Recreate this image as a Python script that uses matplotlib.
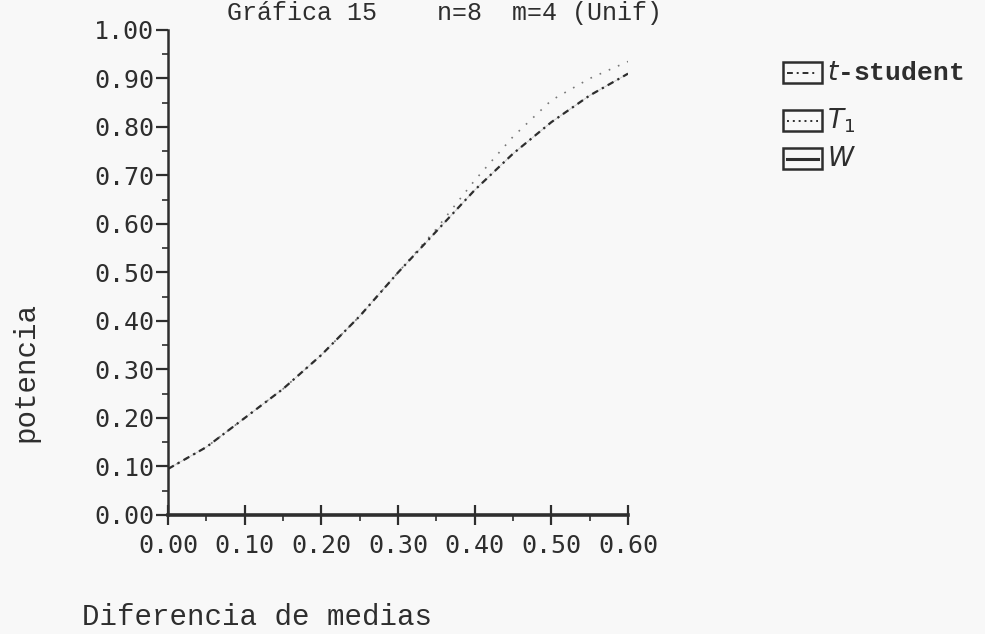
import matplotlib
matplotlib.use("Agg")
import matplotlib.pyplot as plt
from matplotlib.patches import Rectangle
from matplotlib.lines import Line2D
from matplotlib.ticker import MultipleLocator, FormatStrFormatter

# --- data ---
diff = [0.00, 0.05, 0.10, 0.15, 0.20, 0.25, 0.30, 0.35, 0.40, 0.45, 0.50, 0.55, 0.60]
t_student = [0.095, 0.14, 0.20, 0.26, 0.33, 0.41, 0.50, 0.585, 0.67, 0.745, 0.81, 0.865, 0.91]
t1 = [0.095, 0.14, 0.20, 0.26, 0.33, 0.41, 0.50, 0.59, 0.69, 0.78, 0.855, 0.90, 0.935]
w = [0.095, 0.14, 0.20, 0.26, 0.33, 0.41, 0.50, 0.585, 0.67, 0.745, 0.81, 0.865, 0.91]

series_names = ["$t$-student", "$T_1$", "$W$"]

ink = "#2e2e2e"
bg = "#f8f8f8"
mono = "Liberation Mono"
tick_font = "DejaVu Sans Mono"

# --- figure ---
fig = plt.figure(figsize=(9.85, 6.34), dpi=100, facecolor=bg)
ax = fig.add_axes([0.1706, 0.1877, 0.4670, 0.7650], facecolor=bg)

ax.plot(diff, w, color="#c8c8c8", lw=0.6, zorder=1)
ax.plot(diff, t1, color="#777777", lw=1.2, linestyle=(0, (1, 5)), zorder=2)
ax.plot(diff, t_student, color=ink, lw=1.6, linestyle=(0, (3, 2, 1, 2)), zorder=3)

ax.set_xlim(0, 0.6)
ax.set_ylim(0, 1.0)

for s in ["top", "right"]:
    ax.spines[s].set_visible(False)
ax.spines["left"].set_linewidth(1.8)
ax.spines["left"].set_color(ink)
ax.spines["bottom"].set_linewidth(2.6)
ax.spines["bottom"].set_color(ink)

ax.xaxis.set_major_locator(MultipleLocator(0.1))
ax.xaxis.set_minor_locator(MultipleLocator(0.05))
ax.yaxis.set_major_locator(MultipleLocator(0.1))
ax.yaxis.set_minor_locator(MultipleLocator(0.05))
ax.xaxis.set_major_formatter(FormatStrFormatter("%.2f"))
ax.yaxis.set_major_formatter(FormatStrFormatter("%.2f"))

ax.tick_params(axis="x", which="major", direction="inout", length=14, width=1.6,
               color=ink, pad=7, labelsize=18, labelcolor=ink)
ax.tick_params(axis="x", which="minor", direction="out", length=4, width=1.2, color=ink)
ax.tick_params(axis="y", which="major", direction="out", length=9, width=1.6,
               color=ink, pad=1, labelsize=18, labelcolor=ink)
ax.tick_params(axis="y", which="minor", direction="out", length=4, width=1.2, color=ink)
for lab in ax.get_xticklabels() + ax.get_yticklabels():
    lab.set_family(tick_font)

# --- labels ---
fig.text(25 / 985, 1 - 372 / 634, "potencia", rotation=90, ha="center", va="center",
         family=mono, fontsize=21, color=ink)
fig.text(82 / 985, 1 - 617 / 634, "Diferencia de medias", ha="left", va="center",
         family=mono, fontsize=21, color=ink)
fig.text(227 / 985, 1 - 20 / 634, "Gráfica 15    n=8  m=4 (Unif)", ha="left",
         va="baseline", family=mono, fontsize=18, color=ink)

# --- legend boxes ---
styles = [
    dict(color=ink, lw=1.4, linestyle=(0, (3, 2, 1, 2))),
    dict(color=ink, lw=1.4, linestyle=(0, (1, 2))),
    dict(color=ink, lw=2.2, linestyle="-"),
]
box_tops = [62, 110, 148]
for name, st, top in zip(series_names, styles, box_tops):
    x0, x1 = 783 / 985, 822 / 985
    y1 = 1 - top / 634
    y0 = 1 - (top + 21) / 634
    fig.add_artist(Rectangle((x0, y0), x1 - x0, y1 - y0, transform=fig.transFigure,
                             fill=False, edgecolor=ink, lw=1.8))
    ym = (y0 + y1) / 2
    fig.add_artist(Line2D([x0 + 0.004, x1 - 0.004], [ym, ym], transform=fig.transFigure, **st))
    fig.text(827 / 985, ym, name, ha="left", va="center", family=mono,
             fontsize=19, fontweight="bold", color=ink)

fig.savefig("out.png", dpi=100, facecolor=bg)
